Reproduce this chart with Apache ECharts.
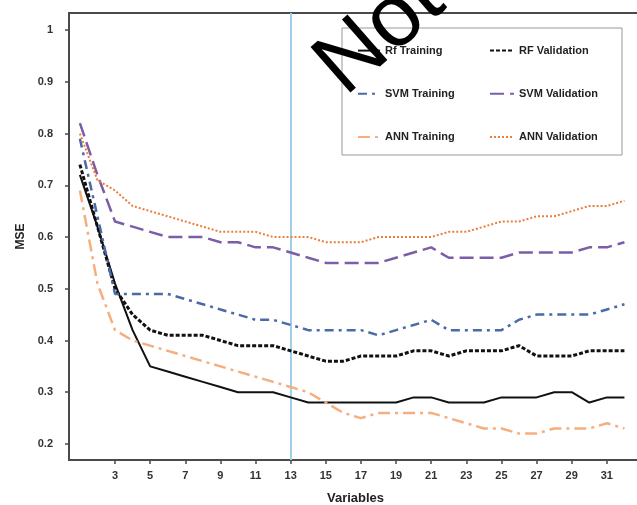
<!DOCTYPE html>
<html>
<head>
<meta charset="utf-8">
<script src="https://cdn.jsdelivr.net/npm/echarts@6/dist/echarts.min.js"></script>
<style>
  html, body { margin: 0; padding: 0; background: #fff; }
  #chart { width: 637px; height: 505px; }
</style>
</head>
<body>
<div id="chart"></div>
<script>
// number of variables, 1..32
const variables = [1, 2, 3, 4, 5, 6, 7, 8, 9, 10, 11, 12, 13, 14, 15, 16,
  17, 18, 19, 20, 21, 22, 23, 24, 25, 26, 27, 28, 29, 30, 31, 32];

const rfTraining = [0.72, 0.62, 0.51, 0.42, 0.35, 0.34, 0.33, 0.32, 0.31, 0.30, 0.30, 0.30, 0.29, 0.28, 0.28, 0.28,
  0.28, 0.28, 0.28, 0.29, 0.29, 0.28, 0.28, 0.28, 0.29, 0.29, 0.29, 0.30, 0.30, 0.28, 0.29, 0.29];
const rfValidation = [0.74, 0.62, 0.50, 0.45, 0.42, 0.41, 0.41, 0.41, 0.40, 0.39, 0.39, 0.39, 0.38, 0.37, 0.36, 0.36,
  0.37, 0.37, 0.37, 0.38, 0.38, 0.37, 0.38, 0.38, 0.38, 0.39, 0.37, 0.37, 0.37, 0.38, 0.38, 0.38];
const svmTraining = [0.79, 0.64, 0.49, 0.49, 0.49, 0.49, 0.48, 0.47, 0.46, 0.45, 0.44, 0.44, 0.43, 0.42, 0.42, 0.42,
  0.42, 0.41, 0.42, 0.43, 0.44, 0.42, 0.42, 0.42, 0.42, 0.44, 0.45, 0.45, 0.45, 0.45, 0.46, 0.47];
const svmValidation = [0.82, 0.72, 0.63, 0.62, 0.61, 0.60, 0.60, 0.60, 0.59, 0.59, 0.58, 0.58, 0.57, 0.56, 0.55, 0.55,
  0.55, 0.55, 0.56, 0.57, 0.58, 0.56, 0.56, 0.56, 0.56, 0.57, 0.57, 0.57, 0.57, 0.58, 0.58, 0.59];
const annTraining = [0.69, 0.51, 0.42, 0.40, 0.39, 0.38, 0.37, 0.36, 0.35, 0.34, 0.33, 0.32, 0.31, 0.30, 0.28, 0.26,
  0.25, 0.26, 0.26, 0.26, 0.26, 0.25, 0.24, 0.23, 0.23, 0.22, 0.22, 0.23, 0.23, 0.23, 0.24, 0.23];
const annValidation = [0.80, 0.71, 0.69, 0.66, 0.65, 0.64, 0.63, 0.62, 0.61, 0.61, 0.61, 0.60, 0.60, 0.60, 0.59, 0.59,
  0.59, 0.60, 0.60, 0.60, 0.60, 0.61, 0.61, 0.62, 0.63, 0.63, 0.64, 0.64, 0.65, 0.66, 0.66, 0.67];

const xTicks = [3, 5, 7, 9, 11, 13, 15, 17, 19, 21, 23, 25, 27, 29, 31];
const yTicks = [0.2, 0.3, 0.4, 0.5, 0.6, 0.7, 0.8, 0.9, 1];
const cutoff = 13;

const font = '"Liberation Sans", Arial, sans-serif';
const pairs = vals => variables.map((v, i) => [v, vals[i]]);

function lineSeries (name, vals, color, type, width) {
  return {
    name: name,
    type: 'line',
    data: pairs(vals),
    symbol: 'none',
    smooth: false,
    lineStyle: { color: color, width: width, type: type },
    itemStyle: { color: color },
    z: 3,
  }
}

const chart = echarts.init(document.getElementById('chart'));
const series = [
  lineSeries('Rf Training', rfTraining, '#111', 'solid', 2),
  lineSeries('RF Validation', rfValidation, '#111', [4, 2], 3),
  lineSeries('SVM Training', svmTraining, '#4a6aa8', [9, 5, 3, 5], 2.5),
  lineSeries('SVM Validation', svmValidation, '#7b5ea7', [14, 6], 2.5),
  lineSeries('ANN Training', annTraining, '#f5ae7e', [12, 5, 3, 5], 2.5),
  lineSeries('ANN Validation', annValidation, '#ec7c3a', [2, 2], 2),
];
// cut-off marker at 13 variables
series[0].markLine = {
  silent: true,
  symbol: 'none',
  label: { show: false },
  lineStyle: { color: '#9fd0e8', width: 2, type: 'solid' },
  data: [{ xAxis: cutoff }],
  z: 1,
};

const legendText = { fontFamily: font, fontWeight: 'bold', fontSize: 11, color: '#222' };

chart.setOption({
  animation: false,
  backgroundColor: '#fff',
  grid: {
    left: 69, top: 13, right: -5, bottom: 45,
    outerBoundsMode: 'none',
    show: true, borderColor: '#4a4a4a', borderWidth: 2,
  },
  graphic: [{
    type: 'rect',
    shape: { x: 342, y: 28, width: 280, height: 127 },
    style: { fill: '#fff', stroke: '#999', lineWidth: 1 },
    z: 10,
  }, {
    type: 'text',
    x: 358, y: 112,
    rotation: 0.72,
    style: { text: 'Not', font: '88px "Liberation Sans", Arial, sans-serif', fill: '#000',
      textAlign: 'left', textVerticalAlign: 'bottom' },
    z: 100,
  }],
  legend: [{
    data: ['Rf Training', 'SVM Training', 'ANN Training'],
    orient: 'vertical',
    left: 352, top: 40,
    itemWidth: 22, itemHeight: 14, itemGap: 32,
    itemStyle: { opacity: 0 },
    textStyle: legendText,
    z: 20,
  }, {
    data: ['RF Validation', 'SVM Validation', 'ANN Validation'],
    orient: 'vertical',
    left: 484, top: 40,
    itemWidth: 24, itemHeight: 14, itemGap: 32,
    itemStyle: { opacity: 0 },
    textStyle: legendText,
    z: 20,
  }],
  xAxis: {
    type: 'value',
    min: 0.38, max: 33,
    name: 'Variables',
    nameLocation: 'middle',
    nameGap: 32,
    nameTextStyle: { fontFamily: font, fontWeight: 'bold', fontSize: 13, color: '#222' },
    axisLine: { onZero: false, lineStyle: { color: '#4a4a4a', width: 2 } },
    axisTick: { show: true, length: 4, customValues: xTicks, lineStyle: { color: '#4a4a4a', width: 1.5 } },
    axisLabel: { customValues: xTicks, margin: 10, fontFamily: font, fontWeight: 'bold', fontSize: 11, color: '#333' },
    splitLine: { show: false },
  },
  yAxis: {
    type: 'value',
    min: 0.169, max: 1.033,
    name: 'MSE',
    nameLocation: 'middle',
    nameGap: 41,
    nameTextStyle: { fontFamily: font, fontWeight: 'bold', fontSize: 12, color: '#222' },
    axisLine: { show: true, lineStyle: { color: '#4a4a4a', width: 2 } },
    axisTick: { show: true, length: 4, customValues: yTicks, lineStyle: { color: '#4a4a4a', width: 1.5 } },
    axisLabel: { customValues: yTicks, margin: 16, fontFamily: font, fontWeight: 'bold', fontSize: 11, color: '#333',
      formatter: v => String(Math.round(v * 10) / 10) },
    splitLine: { show: false },
  },
  series: series,
});
</script>
</body>
</html>
